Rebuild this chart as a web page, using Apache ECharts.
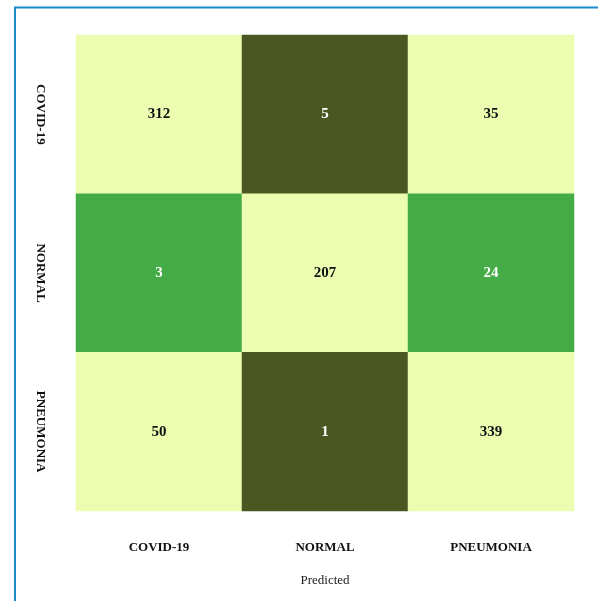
<!DOCTYPE html>
<html>
<head>
<meta charset="utf-8">
<script src="https://cdn.jsdelivr.net/npm/echarts@6/dist/echarts.min.js"></script>
<style>html,body{margin:0;padding:0;background:#fff}#c{width:598px;height:601px}</style>
</head>
<body>
<div id="c"></div>
<script>
const predictedLabels = ['COVID-19', 'NORMAL', 'PNEUMONIA'];
const actualLabels = ['COVID-19', 'NORMAL', 'PNEUMONIA'];
const rowCovid = [312, 5, 35];
const rowNormal = [3, 207, 24];
const rowPneumonia = [50, 1, 339];
const xAxisTitle = 'Predicted';

// style: cell colour classes (not data)
const LIGHT = '#ecfcb0', DARK = '#4a5723', GREEN = '#45ab46';
const cellColors = [
  [LIGHT, DARK, LIGHT],
  [GREEN, LIGHT, GREEN],
  [LIGHT, DARK, LIGHT]
];

const rows = [rowCovid, rowNormal, rowPneumonia];
const data = [];
rows.forEach((r, ri) => r.forEach((v, ci) => {
  const c = cellColors[ri][ci];
  data.push({
    value: [ci, ri, v],
    itemStyle: { color: c },
    label: { color: c === LIGHT ? '#111' : '#fff' }
  });
}));

const chart = echarts.init(document.getElementById('c'), null, { renderer: 'canvas' });
const serif = '"Liberation Serif", "DejaVu Serif", serif';
chart.setOption({
  animation: false,
  grid: { left: 76, top: 35, width: 498, height: 476 },
  xAxis: {
    type: 'category', data: predictedLabels,
    name: xAxisTitle, nameLocation: 'middle', nameGap: 63,
    nameTextStyle: { fontFamily: serif, fontSize: 13, color: '#222' },
    axisLine: { show: false }, axisTick: { show: false }, splitLine: { show: false },
    axisLabel: { margin: 30, fontFamily: serif, fontSize: 13, fontWeight: 'bold', color: '#111' }
  },
  yAxis: {
    type: 'category', data: actualLabels, inverse: true,
    axisLine: { show: false }, axisTick: { show: false }, splitLine: { show: false },
    axisLabel: { rotate: -90, margin: 36, fontFamily: serif, fontSize: 13, fontWeight: 'bold', color: '#111', align: 'center', verticalAlign: 'middle' }
  },
  series: [{
    type: 'heatmap',
    data: data,
    label: { show: true, fontFamily: serif, fontSize: 15, fontWeight: 'bold' },
    itemStyle: { borderWidth: 0 },
    emphasis: { disabled: true }
  }],
  graphic: [
    { type: 'line', shape: { x1: 14, y1: 7.5, x2: 598, y2: 7.5 }, style: { stroke: '#1a8ac8', lineWidth: 2 } },
    { type: 'line', shape: { x1: 15, y1: 7, x2: 15, y2: 601 }, style: { stroke: '#1a8ac8', lineWidth: 2 } }
  ]
});
</script>
</body>
</html>
